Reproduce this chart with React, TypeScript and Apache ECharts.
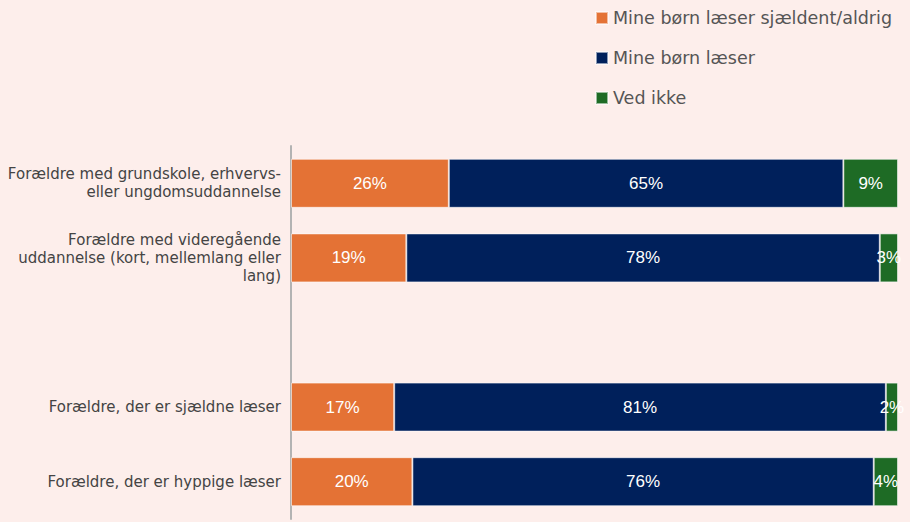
import React, { useEffect, useRef } from "react";
import * as echarts from "echarts";

const categories = [
  "Forældre med grundskole, erhvervs-\neller ungdomsuddannelse",
  "Forældre med videregående\nuddannelse (kort, mellemlang eller\nlang)",
  "",
  "Forældre, der er sjældne læser",
  "Forældre, der er hyppige læser",
];
const seriesNames = ["Mine børn læser sjældent/aldrig", "Mine børn læser", "Ved ikke"];
const rarely = [26, 19, null, 17, 20];
const reads = [65, 78, null, 81, 76];
const unknown = [9, 3, null, 2, 4];
const colors = ["#E47235", "#00205B", "#1E6B25"];

export default function App() {
  const ref = useRef<HTMLDivElement>(null);
  useEffect(() => {
    const chart = echarts.init(ref.current!, null, { renderer: "svg" });
    const mk = (name: string, data: (number | null)[], color: string) => ({
      name,
      type: "bar",
      stack: "total",
      barWidth: 49,
      data: data.map((v) => (v === null ? "-" : v)),
      itemStyle: { color, borderColor: "rgba(255,255,255,0.55)", borderWidth: 1 },
      label: {
        show: true,
        position: "inside",
        formatter: "{c}%",
        color: "#fff",
        fontSize: 17,
        fontFamily: "Liberation Sans",
      },
    });
    chart.setOption({
      animation: false,
      backgroundColor: "#FDEEEB",
      textStyle: { fontFamily: "DejaVu Sans" },
      legend: {
        orient: "vertical",
        left: 590,
        top: 4,
        itemWidth: 12,
        itemHeight: 12,
        itemGap: 22,
        icon: "rect",
        textStyle: { fontSize: 17.5, color: "#555", fontFamily: "DejaVu Sans" },
        data: seriesNames,
      },
      grid: { left: 291, right: 12, top: 146, height: 373, outerBoundsMode: "none" },
      xAxis: {
        type: "value",
        min: 0,
        max: 100,
        show: false,
      },
      yAxis: {
        type: "category",
        inverse: true,
        data: categories,
        axisLine: { show: true, lineStyle: { color: "#b3b3b3", width: 2 } },
        axisTick: { show: false },
        axisLabel: {
          color: "#444",
          fontSize: 15,
          lineHeight: 18,
          margin: 10,
          align: "right",
          fontFamily: "DejaVu Sans",
        },
      },
      series: [
        mk(seriesNames[0], rarely, colors[0]),
        mk(seriesNames[1], reads, colors[1]),
        mk(seriesNames[2], unknown, colors[2]),
      ],
    });
    return () => chart.dispose();
  }, []);
  return <div ref={ref} style={{ width: 910, height: 522, position: "absolute", left: 0, top: 0 }} />;
}
